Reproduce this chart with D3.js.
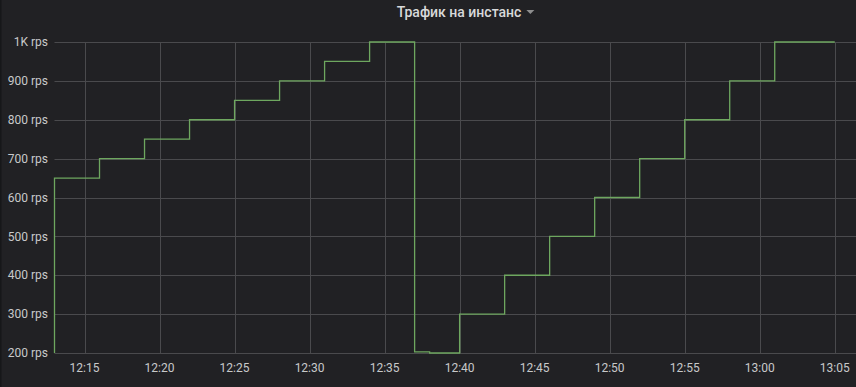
<!DOCTYPE html>
<html>
<head>
<meta charset="utf-8">
<script src="https://cdn.jsdelivr.net/npm/d3@7"></script>
<style>
  html, body { margin: 0; padding: 0; background: #212124; }
  svg { display: block; }
</style>
</head>
<body>
<div id="chart"></div>
<script>
// step points of the series (value holds until the next time)
const times = ["12:13", "12:13", "12:16", "12:19", "12:22", "12:25", "12:28", "12:31", "12:34",
               "12:37", "12:38", "12:40", "12:43", "12:46", "12:49", "12:52", "12:55", "12:58",
               "13:01", "13:05"];
const values = [200, 650, 700, 750, 800, 850, 900, 950, 1000,
                203, 200, 300, 400, 500, 600, 700, 800, 900,
                1000, 1000];
const yTicks = [200, 300, 400, 500, 600, 700, 800, 900, 1000];
const title = "Трафик на инстанс";

const W = 856, H = 387;
const margin = {top: 42, right: 0, bottom: 34, left: 54.5};

const parse = d3.timeParse("%H:%M");
const data = times.map((t, i) => ({t: parse(t), v: values[i]}));

const svg = d3.select("#chart").append("svg")
    .attr("width", W)
    .attr("height", H);

// panel border on the left
svg.append("rect").attr("x", 0).attr("y", 0).attr("width", 1.5).attr("height", H).attr("fill", "#161719");

const x = d3.scaleTime()
    .domain([parse("12:13"), new Date(parse("13:06").getTime() + 25000)])
    .range([margin.left, W - margin.right]);
const y = d3.scaleLinear()
    .domain([200, 1000])
    .range([H - margin.bottom, margin.top]);

const xTicks = x.ticks(d3.timeMinute.every(5));
const font = "Roboto, 'Noto Sans', sans-serif";

// grid
svg.append("g").selectAll("line").data(yTicks).enter().append("line")
    .attr("x1", margin.left).attr("x2", W)
    .attr("y1", d => Math.round(y(d)) + 0.5).attr("y2", d => Math.round(y(d)) + 0.5)
    .attr("stroke", "#4a4a4d").attr("stroke-width", 1);
svg.append("g").selectAll("line").data(xTicks).enter().append("line")
    .attr("x1", d => Math.round(x(d)) + 0.5).attr("x2", d => Math.round(x(d)) + 0.5)
    .attr("y1", Math.round(y(1000)) + 0.5).attr("y2", Math.round(y(200)) + 0.5)
    .attr("stroke", "#4a4a4d").attr("stroke-width", 1);

// y labels
svg.append("g").selectAll("text").data(yTicks).enter().append("text")
    .attr("x", 48).attr("y", d => y(d))
    .attr("dy", "0.35em")
    .attr("text-anchor", "end")
    .attr("fill", "#c8c9ca")
    .style("font", "12px " + font)
    .text(d => d >= 1000 ? (d / 1000) + "K rps" : d + " rps");

// x labels
const fmt = d3.timeFormat("%H:%M");
svg.append("g").selectAll("text").data(xTicks).enter().append("text")
    .attr("x", d => x(d)).attr("y", 372)
    .attr("text-anchor", "middle")
    .attr("fill", "#c8c9ca")
    .style("font", "12px " + font)
    .text(d => fmt(d));

// series
const line = d3.line()
    .x(d => x(d.t))
    .y(d => y(d.v))
    .curve(d3.curveStepAfter);
svg.append("path")
    .datum(data)
    .attr("d", line)
    .attr("fill", "none")
    .attr("stroke", "#6ea75f")
    .attr("stroke-width", 1.3);

// title with caret
const tt = svg.append("text")
    .attr("x", 459).attr("y", 17)
    .attr("text-anchor", "middle")
    .attr("fill", "#d8d9da")
    .style("font", "500 14px " + font)
    .text(title);
const tw = tt.node().getComputedTextLength();
const cx = 459 + tw / 2 + 9;
svg.append("path")
    .attr("d", `M${cx - 4},10 L${cx + 4},10 L${cx},14 Z`)
    .attr("fill", "#8e8e8e");
</script>
</body>
</html>
